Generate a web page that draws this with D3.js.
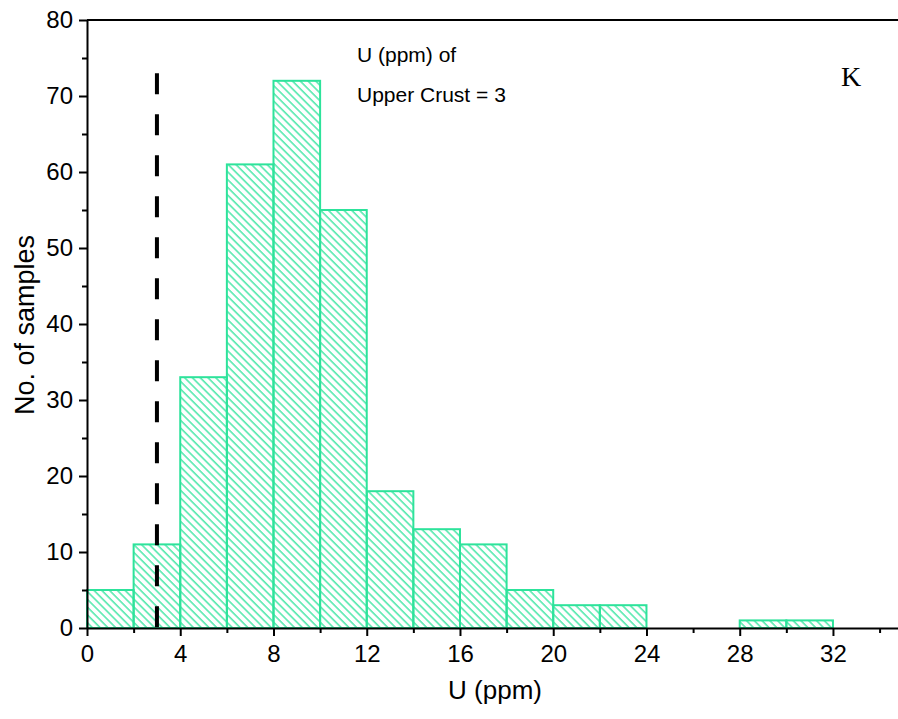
<!DOCTYPE html>
<html>
<head>
<meta charset="utf-8">
<script src="https://cdn.jsdelivr.net/npm/d3@7"></script>
<style>
  body { margin: 0; background: #fff; }
  text { font-family: "Liberation Sans", Arial, sans-serif; fill: #000; }
</style>
</head>
<body>
<svg id="chart" width="898" height="719"></svg>
<script>
// histogram bins (ppm) and counts
const binStarts = [0, 2, 4, 6, 8, 10, 12, 14, 16, 18, 20, 22, 24, 26, 28, 30];
const counts    = [5, 11, 33, 61, 72, 55, 18, 13, 11, 5, 3, 3, 0, 0, 1, 1];
const binWidth = 2;
const xTicks = [0, 4, 8, 12, 16, 20, 24, 28, 32];
const xMinor = [2, 6, 10, 14, 18, 22, 26, 30, 34];
const yTicks = [0, 10, 20, 30, 40, 50, 60, 70, 80];
const yMinor = [5, 15, 25, 35, 45, 55, 65, 75];
const crustU = 3;       // upper crust reference
const crustLineTop = 73;

const svg = d3.select("#chart");
const mLeft = 87, mRight = 898, mTop = 20, mBottom = 628;
const green = "#2de39b";

const x = d3.scaleLinear().domain([0, 34.79]).range([mLeft, mRight]);
const y = d3.scaleLinear().domain([0, 80]).range([mBottom, mTop]);

// hatch pattern
const defs = svg.append("defs");
const pat = defs.append("pattern")
  .attr("id", "hatch")
  .attr("patternUnits", "userSpaceOnUse")
  .attr("width", 5.5).attr("height", 5.5)
  .attr("patternTransform", "rotate(-45)");
pat.append("line")
  .attr("x1", 1).attr("y1", 0).attr("x2", 1).attr("y2", 5.5)
  .attr("stroke", green).attr("stroke-width", 1.3);

// bars
const bins = binStarts.map((b, i) => ({x0: b, x1: b + binWidth, n: counts[i]}))
  .filter(d => d.n > 0);
svg.append("g").selectAll("rect")
  .data(bins)
  .join("rect")
  .attr("x", d => x(d.x0))
  .attr("y", d => y(d.n))
  .attr("width", d => x(d.x1) - x(d.x0))
  .attr("height", d => y(0) - y(d.n))
  .attr("fill", "url(#hatch)")
  .attr("stroke", green)
  .attr("stroke-width", 2);

// reference line, dashes start at the top
svg.append("line")
  .attr("x1", x(crustU)).attr("x2", x(crustU))
  .attr("y1", y(crustLineTop)).attr("y2", y(0))
  .attr("stroke", "#000")
  .attr("stroke-width", 4)
  .attr("stroke-dasharray", "21,20");

// top frame line
svg.append("line")
  .attr("x1", mLeft).attr("x2", mRight)
  .attr("y1", mTop).attr("y2", mTop)
  .attr("stroke", "#000").attr("stroke-width", 2);

// x axis
const xAxis = svg.append("g").attr("transform", `translate(0,${mBottom})`);
xAxis.call(d3.axisBottom(x).tickValues(xTicks).tickSize(8).tickSizeOuter(0).tickPadding(9));
xAxis.append("g").call(d3.axisBottom(x).tickValues(xMinor).tickSize(5).tickFormat(""))
  .select(".domain").remove();
xAxis.selectAll("path").attr("stroke-width", 2);
xAxis.selectAll(".tick line").attr("stroke-width", 2);
xAxis.selectAll(".tick text").style("font-size", "24px");

// y axis
const yAxis = svg.append("g").attr("transform", `translate(${mLeft},0)`);
yAxis.call(d3.axisLeft(y).tickValues(yTicks).tickSize(8).tickSizeOuter(0).tickPadding(6));
yAxis.append("g").call(d3.axisLeft(y).tickValues(yMinor).tickSize(5).tickFormat(""))
  .select(".domain").remove();
yAxis.selectAll("path").attr("stroke-width", 2);
yAxis.selectAll(".tick line").attr("stroke-width", 2);
yAxis.selectAll(".tick text").style("font-size", "24px");

// titles
svg.append("text")
  .attr("x", 495).attr("y", 699)
  .attr("text-anchor", "middle")
  .style("font-size", "26px")
  .text("U (ppm)");

svg.append("text")
  .attr("transform", `translate(34,325) rotate(-90)`)
  .attr("text-anchor", "middle")
  .style("font-size", "27px")
  .text("No. of samples");

// annotations
svg.append("text").attr("x", 357).attr("y", 62).style("font-size", "21px").text("U (ppm) of");
svg.append("text").attr("x", 357).attr("y", 102).style("font-size", "21px").text("Upper Crust = 3");
svg.append("text")
  .attr("x", 841).attr("y", 86)
  .style("font-family", "'Liberation Serif', 'Times New Roman', serif")
  .style("font-size", "28px")
  .text("K");
</script>
</body>
</html>
